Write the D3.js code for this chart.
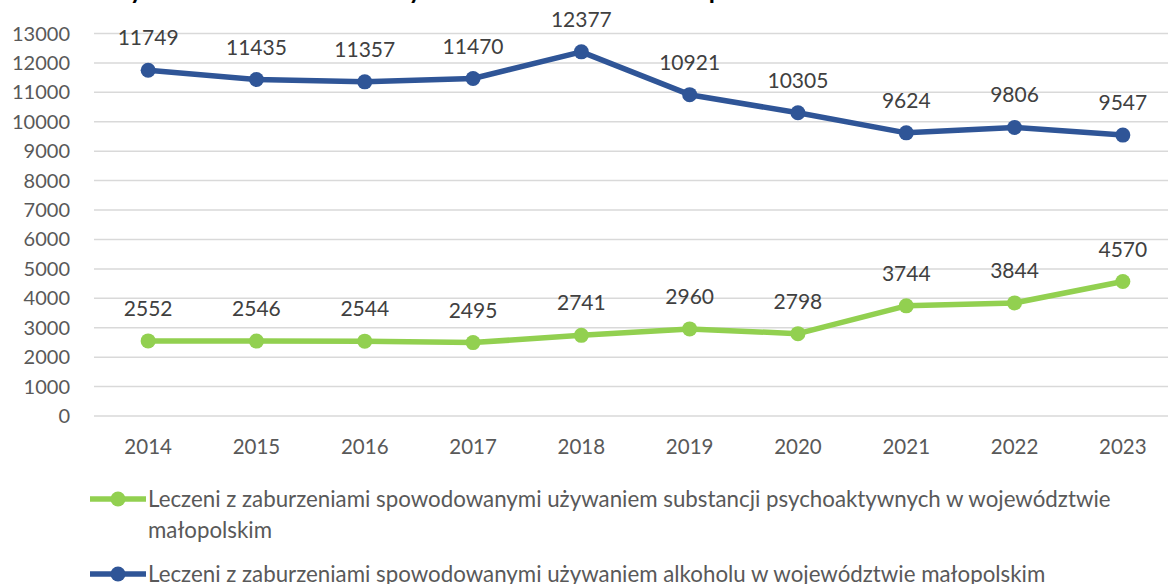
<!DOCTYPE html>
<html lang="pl">
<head>
<meta charset="UTF-8" />
<title>Leczeni z zaburzeniami</title>
<script src="https://d3js.org/d3.v7.min.js"></script>
<style>
  body { margin: 0; background: #fff; font-family: 'Lato', 'Liberation Sans', sans-serif; }
  .grid line { stroke: #d9d9d9; stroke-width: 1.5px; }
  .tick-y { fill: #595959; font-size: 20px; }
  .tick-x { fill: #595959; font-size: 20.5px; }
  .lbl { fill: #404040; font-size: 21px; }
  .leg { fill: #595959; font-size: 22.3px; }
  .title { fill: #000; font-size: 25px; font-weight: bold; }
</style>
</head>
<body>
<svg width="1168" height="584"></svg>
<script>
  const years = ['2014', '2015', '2016', '2017', '2018', '2019', '2020', '2021', '2022', '2023'];
  const substances = [2552, 2546, 2544, 2495, 2741, 2960, 2798, 3744, 3844, 4570];
  const alcohol = [11749, 11435, 11357, 11470, 12377, 10921, 10305, 9624, 9806, 9547];
  const yTicks = d3.range(0, 13001, 1000);
  const seriesNames = [
    ['Leczeni z zaburzeniami spowodowanymi używaniem substancji psychoaktywnych w województwie', 'małopolskim'],
    ['Leczeni z zaburzeniami spowodowanymi używaniem alkoholu w województwie małopolskim']
  ];
  const colors = ['#92d050', '#2f5597'];

  const svg = d3.select('svg');
  const plotLeft = 94, plotRight = 1177, plotTop = 33.5, plotBottom = 416;

  // title is cut off at the top of the picture, only the descenders show
  svg.append('text').attr('class', 'title')
    .attr('x', 104).attr('y', -1.5)
    .text('Wykres. Liczba osób leczonych w latach 2014–2023 – porównanie');

  const x = d3.scaleBand().domain(years).range([plotLeft, plotRight]);
  const y = d3.scaleLinear().domain([0, 13000]).range([plotBottom, plotTop]);

  svg.append('g').attr('class', 'grid')
    .selectAll('line').data(yTicks).join('line')
    .attr('x1', plotLeft).attr('x2', 1168)
    .attr('y1', d => y(d)).attr('y2', d => y(d));

  svg.append('g').selectAll('text').data(yTicks).join('text')
    .attr('class', 'tick-y')
    .attr('x', 70).attr('y', d => y(d)).attr('dy', '0.35em')
    .attr('text-anchor', 'end')
    .text(d => d);

  svg.append('g').selectAll('text').data(years).join('text')
    .attr('class', 'tick-x')
    .attr('x', d => x(d) + x.bandwidth() / 2).attr('y', 454)
    .attr('text-anchor', 'middle')
    .text(d => d);

  const cx = (d, i) => x(years[i]) + x.bandwidth() / 2;
  const line = d3.line().x(cx).y(d => y(d));

  [substances, alcohol].forEach((vals, s) => {
    const g = svg.append('g');
    g.append('path').datum(vals)
      .attr('d', line).attr('fill', 'none')
      .attr('stroke', colors[s]).attr('stroke-width', 5.5)
      .attr('stroke-linejoin', 'round');
    g.selectAll('circle').data(vals).join('circle')
      .attr('cx', cx).attr('cy', d => y(d)).attr('r', 7.5)
      .attr('fill', colors[s]);
    g.selectAll('text').data(vals).join('text')
      .attr('class', 'lbl')
      .attr('x', cx).attr('y', d => y(d) - 25)
      .attr('text-anchor', 'middle')
      .text(d => d);
  });

  // legend
  const legY = [499, 574];
  seriesNames.forEach((lines, s) => {
    const g = svg.append('g').attr('transform', `translate(0,${legY[s]})`);
    g.append('line').attr('x1', 90).attr('x2', 146).attr('y1', 0).attr('y2', 0)
      .attr('stroke', colors[s]).attr('stroke-width', 5.5);
    g.append('circle').attr('cx', 118).attr('cy', 0).attr('r', 7.5).attr('fill', colors[s]);
    lines.forEach((t, k) => {
      g.append('text').attr('class', 'leg')
        .attr('x', 148).attr('y', 7.5 + k * 31)
        .text(t);
    });
  });
</script>
</body>
</html>
